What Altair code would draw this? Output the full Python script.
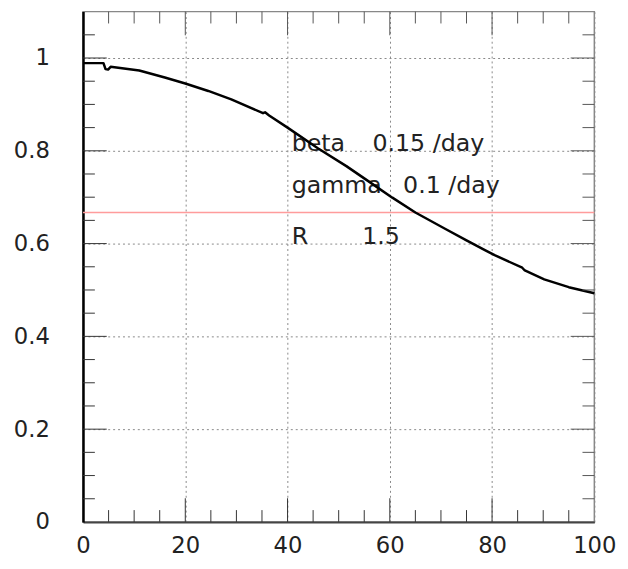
import altair as alt
import pandas as pd

# ---- data ----
day = [0, 4.0, 4.4, 4.9, 5.4, 11, 16, 20, 24.5, 29, 35.2, 35.6, 36.4, 40,
       46, 51.5, 56, 60.5, 65, 70.8, 75, 78.6, 80.5, 85.9, 86.4, 90.2, 95, 100]
susceptible = [0.989, 0.989, 0.976, 0.975, 0.981, 0.973, 0.958, 0.945,
               0.929, 0.911, 0.881, 0.883, 0.876, 0.850, 0.805, 0.767, 0.733,
               0.699, 0.667, 0.632, 0.607, 0.586, 0.575, 0.548, 0.542, 0.523,
               0.506, 0.493]

threshold = [0.667]

note_text = ["beta", "0.15 /day", "gamma", "0.1 /day", "R", "1.5"]
note_x = [40.8, 56.6, 40.8, 62.6, 40.8, 54.6]
note_y = [0.80, 0.80, 0.71, 0.71, 0.60, 0.60]

x_major = [20, 40, 60, 80]
x_minor = [5, 10, 15, 25, 30, 35, 45, 50, 55, 65, 70, 75, 85, 90, 95]
y_major = [0.2, 0.4, 0.6, 0.8, 1.0]
y_minor = [0.05, 0.1, 0.15, 0.25, 0.3, 0.35, 0.45, 0.5, 0.55, 0.65, 0.7,
           0.75, 0.85, 0.9, 0.95, 1.05]
x_labels = [0, 20, 40, 60, 80, 100]
y_labels = [0, 0.2, 0.4, 0.6, 0.8, 1.0]

W, H = 518, 517
FONT = "DejaVu Sans"

curve = pd.DataFrame({"day": day, "S": susceptible})
notes = pd.DataFrame({"t": note_text, "x": note_x, "y": note_y})

xs = alt.Scale(domain=[0, 100], nice=False, zero=False)
ys = alt.Scale(domain=[0, 1.1], nice=False, zero=False)

x_axis = alt.Axis(
    values=x_labels, format="d", title=None, ticks=False,
    labelFont=FONT, labelFontSize=23, labelColor="#222",
    labelPadding=13, labelFlush=False, labelOverlap=False,
    domainColor="#444", domainWidth=2,
    grid=True, gridDash=[2, 3], gridColor="#888", gridWidth=1)
y_axis = alt.Axis(
    values=y_labels, format="~g", title=None, ticks=False,
    labelFont=FONT, labelFontSize=23, labelColor="#222",
    labelPadding=34, labelFlush=False, labelOverlap=False,
    domainColor="black", domainWidth=2.5,
    grid=True, gridDash=[2, 3], gridColor="#888", gridWidth=1)

line = alt.Chart(curve).mark_line(
    color="black", strokeWidth=2.5, strokeJoin="round").encode(
    x=alt.X("day:Q", scale=xs, axis=x_axis),
    y=alt.Y("S:Q", scale=ys, axis=y_axis),
)

red = alt.Chart(pd.DataFrame({"v": threshold})).mark_rule(
    color="#ff9c9c", strokeWidth=1.5).encode(
    y=alt.Y("v:Q", scale=ys, axis=y_axis))

text = alt.Chart(notes).mark_text(
    align="left", baseline="alphabetic", font=FONT, fontSize=24, color="#222"
).encode(
    x=alt.X("x:Q", scale=xs, axis=x_axis),
    y=alt.Y("y:Q", scale=ys, axis=y_axis),
    text="t:N",
)


def xticks(vals, length):
    df = pd.DataFrame({"v": vals})
    bottom = alt.Chart(df).mark_rule(color="#333", strokeWidth=1).encode(
        x=alt.X("v:Q", scale=xs, axis=x_axis),
        y=alt.value(H), y2=alt.value(H - length))
    top = alt.Chart(df).mark_rule(color="#555", strokeWidth=1).encode(
        x=alt.X("v:Q", scale=xs, axis=x_axis),
        y=alt.value(0), y2=alt.value(length))
    return [bottom, top]


def yticks(vals, length):
    df = pd.DataFrame({"v": vals})
    left = alt.Chart(df).mark_rule(color="#333", strokeWidth=1).encode(
        y=alt.Y("v:Q", scale=ys, axis=y_axis),
        x=alt.value(0), x2=alt.value(length))
    right = alt.Chart(df).mark_rule(color="#555", strokeWidth=1).encode(
        y=alt.Y("v:Q", scale=ys, axis=y_axis),
        x=alt.value(W), x2=alt.value(W - length))
    return [left, right]


layers = [red, text, line]
layers += xticks(x_major, 24) + xticks(x_minor, 12)
layers += yticks(y_major, 24) + yticks(y_minor, 12)

chart = alt.layer(*layers).properties(
    width=W, height=H,
    autosize=alt.AutoSizeParams(type="none"),
    padding={"left": 76, "top": 0, "right": 26, "bottom": 44},
).configure_view(
    stroke="#888", strokeWidth=1.5
)

chart.save("out.html", embed_options={"renderer": "svg", "actions": False})
